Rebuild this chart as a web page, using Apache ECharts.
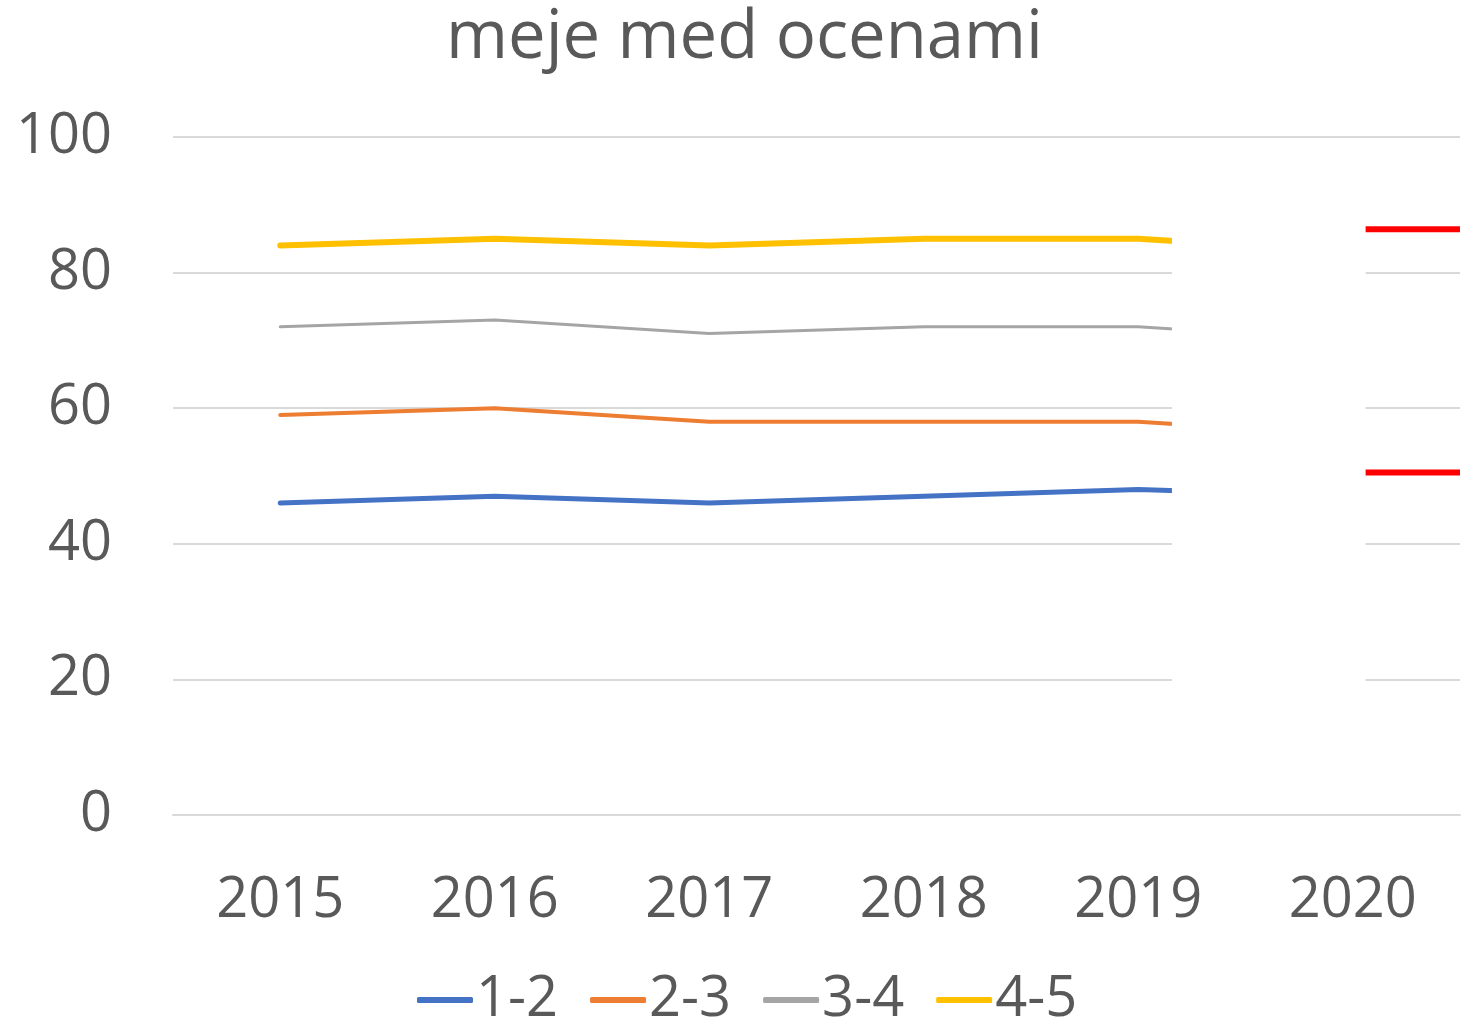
<!DOCTYPE html>
<html>
<head>
<meta charset="utf-8">
<script src="https://cdn.jsdelivr.net/npm/echarts@6/dist/echarts.min.js"></script>
<style>
  html, body { margin: 0; padding: 0; background: #fff; }
  #chart { width: 1476px; height: 1021px; }
</style>
</head>
<body>
<div id="chart"></div>
<script>
var years = ['2015', '2016', '2017', '2018', '2019', '2020'];
var yTicks = [0, 20, 40, 60, 80, 100];

// 2020 points sit behind the white patch, only the first bit of each segment shows
var s12 = [46, 47, 46, 47, 48, 47];
var s23 = [59, 60, 58, 58, 58, 56];
var s34 = [72, 73, 71, 72, 72, 70];
var s45 = [84, 85, 84, 85, 85, 83];

// red limits drawn at the 2020 slot
var redLevels = [86.4, 50.5];
var redFrom = 5.56, redTo = 6;

var txt = '#595959';
var fontName = 'Open Sans';

var myChart = echarts.init(document.getElementById('chart'));

function lineSeries(name, data, color, width) {
    return {
        name: name,
        type: 'line',
        data: data,
        symbol: 'none',
        color: color,
        lineStyle: { color: color, width: width, cap: 'round' },
        z: 2
    };
}

var series = [
    lineSeries('1-2', s12, '#4472C4', 5),
    lineSeries('2-3', s23, '#ED7D31', 4),
    lineSeries('3-4', s34, '#A5A5A5', 3),
    lineSeries('4-5', s45, '#FFC000', 6)
];

redLevels.forEach(function(v){
    series.push({
        type: 'line',
        xAxisIndex: 1,
        data: [[redFrom, v], [redTo, v]],
        symbol: 'none',
        silent: true,
        lineStyle: { color: '#FF0000', width: 6 },
        z: 5
    });
});

var option = {
    backgroundColor: '#fff',
    animation: false,
    title: {
        text: 'meje med ocenami',
        left: 441,
        top: 0,
        textStyle: { color: txt, fontSize: 67, fontWeight: 'normal', fontFamily: fontName }
    },
    legend: {
        data: ['1-2', '2-3', '3-4', '4-5'],
        bottom: -12,
        left: 412,
        icon: 'roundRect',
        itemWidth: 56,
        itemHeight: 6,
        itemGap: 32,
        textStyle: { color: txt, fontSize: 56, fontFamily: fontName, padding: [0, 0, 0, -2] }
    },
    grid: { left: 173, right: 16, top: 137, bottom: 206 },
    xAxis: [{
        type: 'category',
        data: years,
        boundaryGap: true,
        axisLine: { lineStyle: { color: '#D9D9D9', width: 2 } },
        axisTick: { show: false },
        axisLabel: { color: txt, fontSize: 56, fontFamily: fontName, margin: 58 }
    }, {
        type: 'value',
        min: 0,
        max: 6,
        show: false
    }],
    yAxis: {
        type: 'value',
        min: yTicks[0],
        max: yTicks[yTicks.length - 1],
        interval: 20,
        axisLine: { show: false },
        axisTick: { show: false },
        splitLine: { lineStyle: { color: '#D9D9D9', width: 2 } },
        axisLabel: { color: txt, fontSize: 56, fontFamily: fontName, margin: 61 }
    },
    series: series
};

myChart.setOption(option);

// white patch that hides the 2019-2020 stretch
var p1 = myChart.convertToPixel({ xAxisIndex: 1, yAxisIndex: 0 }, [4.657, 98]);
var p2 = myChart.convertToPixel({ xAxisIndex: 1, yAxisIndex: 0 }, [redFrom, 10]);
myChart.setOption({
    graphic: [{
        type: 'rect',
        shape: { x: p1[0], y: p1[1], width: p2[0] - p1[0], height: p2[1] - p1[1] },
        style: { fill: '#fff' },
        z: 4
    }]
});
</script>
</body>
</html>
